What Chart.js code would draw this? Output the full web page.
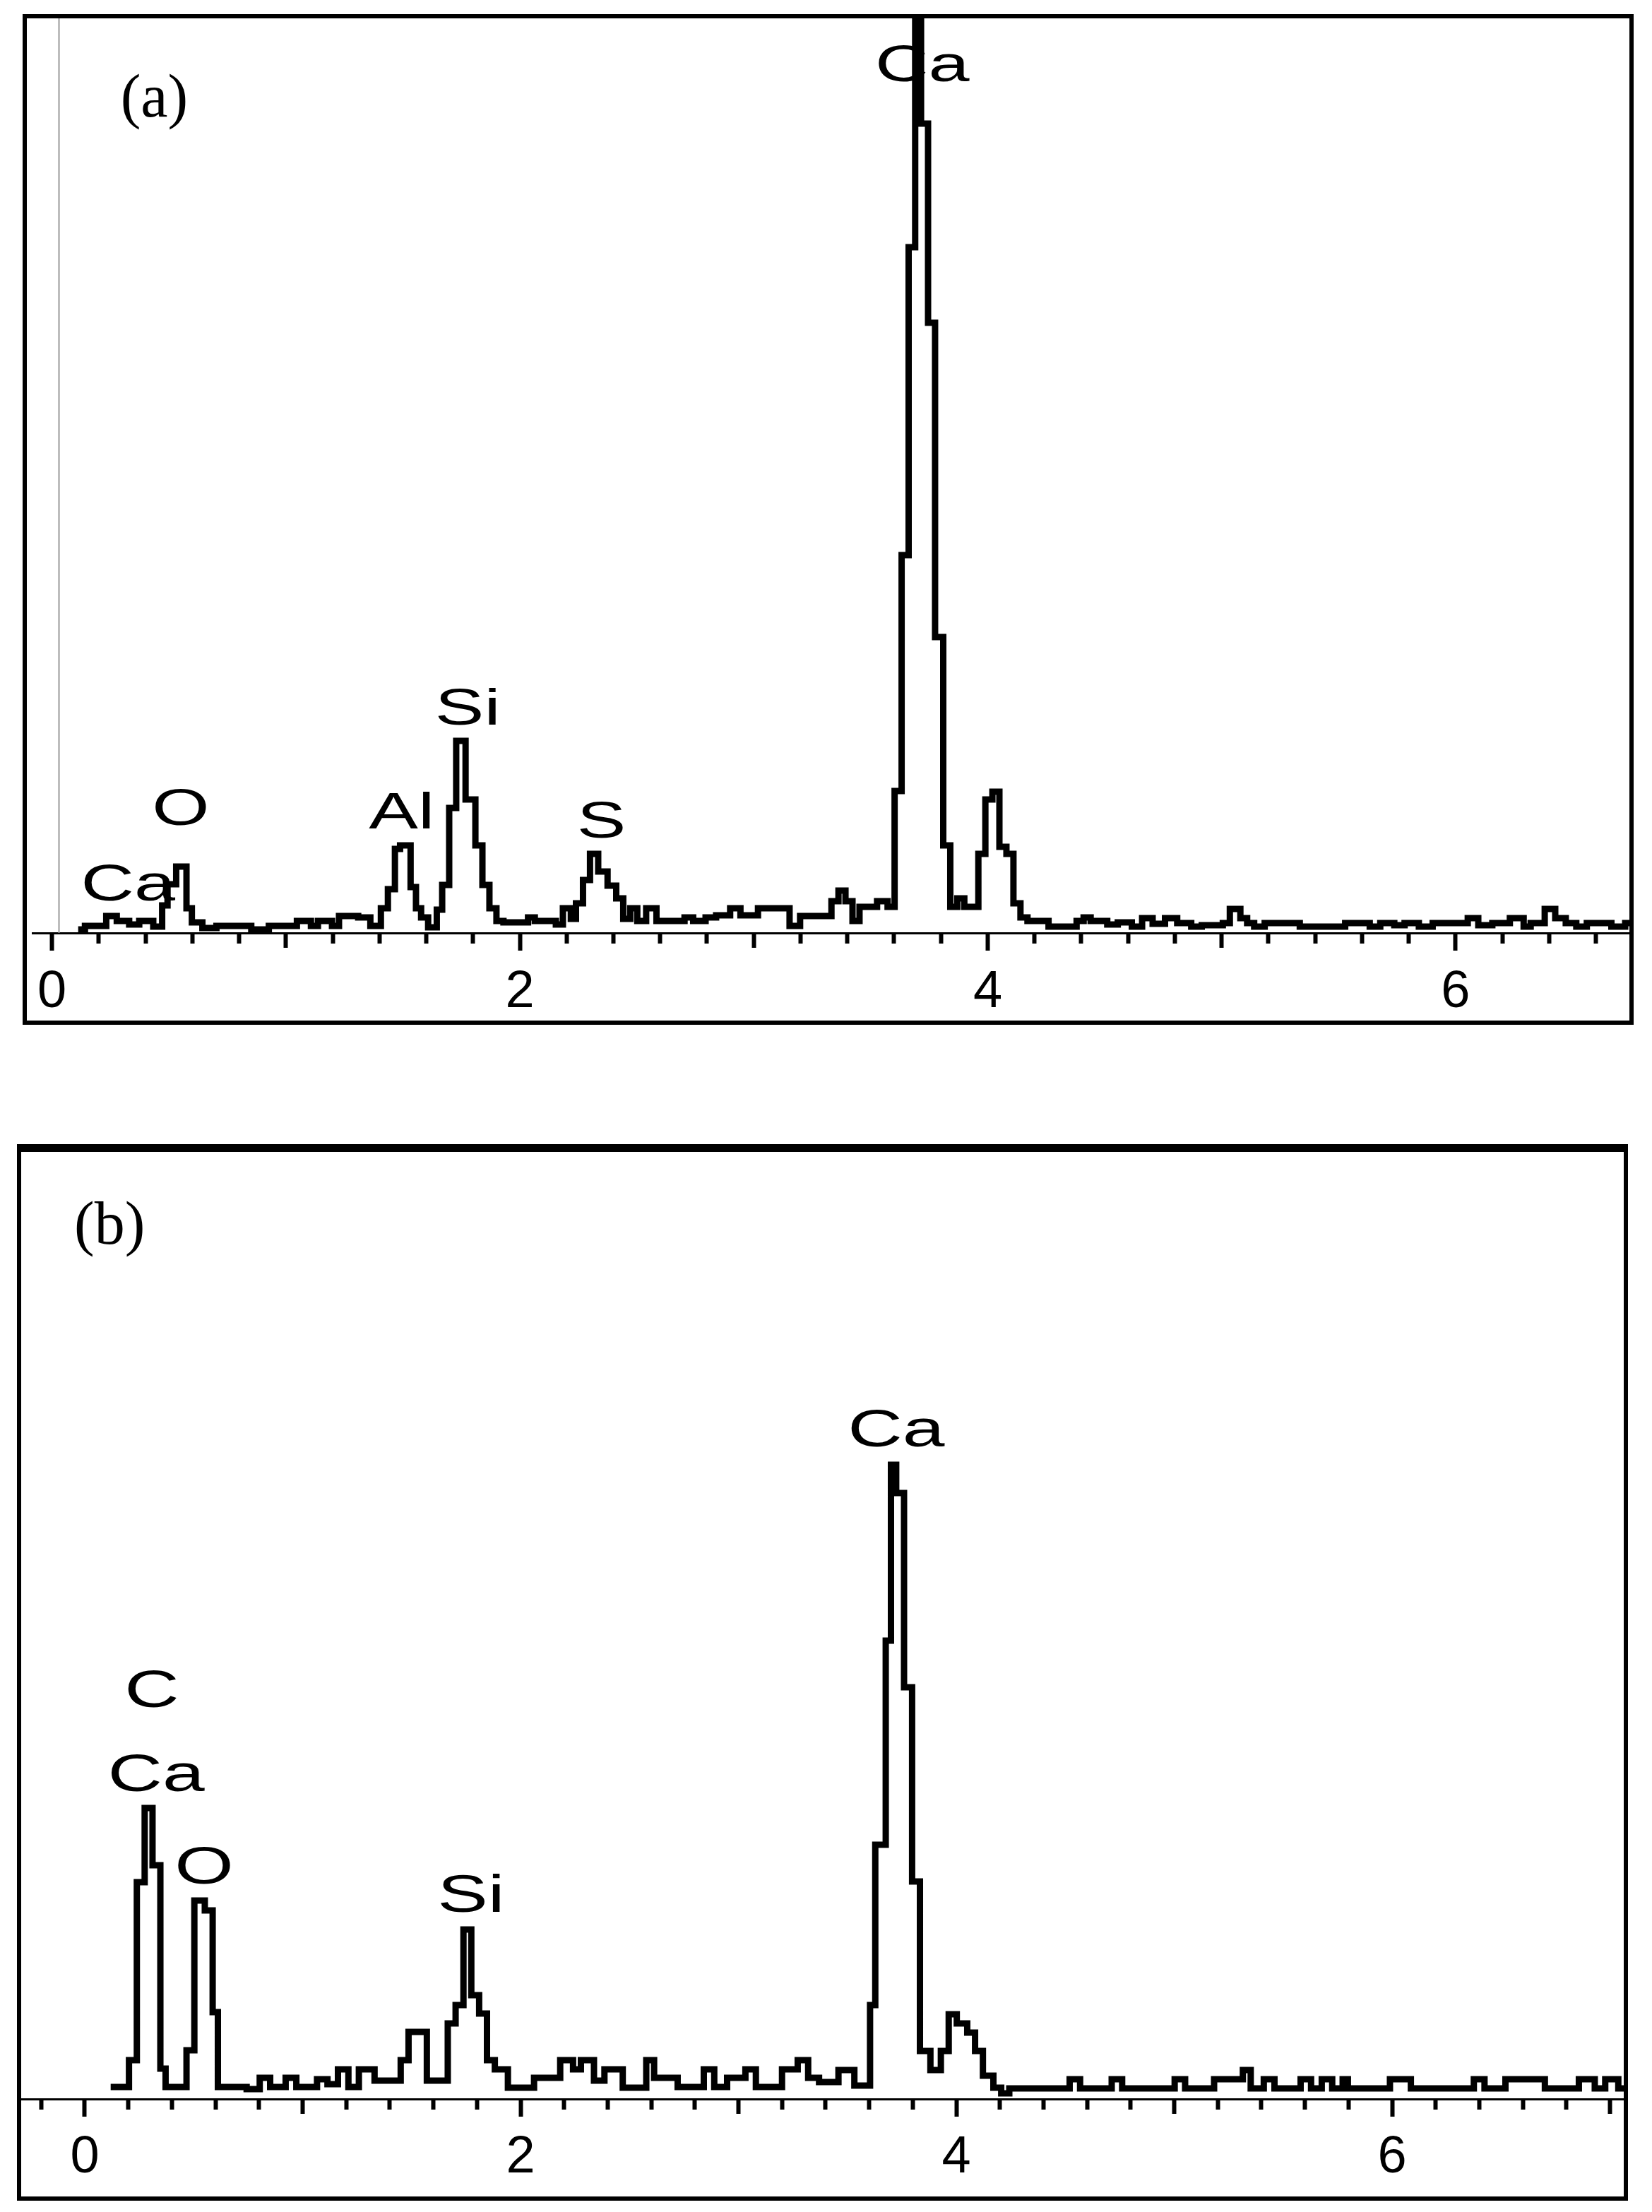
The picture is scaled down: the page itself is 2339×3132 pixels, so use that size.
<!DOCTYPE html>
<html>
<head>
<meta charset="utf-8">
<script src="https://cdn.jsdelivr.net/npm/chart.js@4.4.1/dist/chart.umd.min.js"></script>
<style>
  html, body { margin: 0; padding: 0; background: #fff; }
  body { width: 2339px; height: 3132px; position: relative; overflow: hidden; }
  .panel { position: absolute; box-sizing: border-box; border: 6px solid #000; background: #fff; }
  #panelA { left: 32px; top: 20px; width: 2281px; height: 1431px; }
  #panelB { left: 24px; top: 1620px; width: 2281px; height: 1496px; border-top-width: 11px; }
  canvas { display: block; }
</style>
</head>
<body>
<div class="panel" id="panelA"><canvas id="chartA" width="2269" height="1419"></canvas></div>
<div class="panel" id="panelB"><canvas id="chartB" width="2269" height="1479"></canvas></div>
<script>
// spectrum (a): energy (keV) where each step starts, and the counts of that step
const energyA = [0.112, 0.141, 0.232, 0.277, 0.33, 0.373, 0.433, 0.471, 0.494, 0.531, 0.575, 0.598, 0.643, 0.703,
  0.852, 0.927, 1.047, 1.107, 1.137, 1.197, 1.227, 1.309, 1.361, 1.406, 1.436, 1.466, 1.488, 1.533, 1.556, 1.578,
  1.608, 1.645, 1.668, 1.698, 1.728, 1.768, 1.81, 1.84, 1.87, 1.9, 1.93, 2.035, 2.064, 2.154, 2.184, 2.218, 2.24,
  2.27, 2.30, 2.335, 2.375, 2.412, 2.442, 2.472, 2.502, 2.54, 2.584, 2.704, 2.741, 2.794, 2.839, 2.899, 2.943,
  3.018, 3.153, 3.198, 3.332, 3.362, 3.392, 3.422, 3.452, 3.527, 3.572, 3.602, 3.632, 3.662, 3.69, 3.715, 3.745,
  3.775, 3.81, 3.84, 3.87, 3.90, 3.96, 3.99, 4.02, 4.05, 4.08, 4.11, 4.14, 4.17, 4.26, 4.38, 4.41, 4.44, 4.511,
  4.556, 4.616, 4.660, 4.705, 4.758, 4.810, 4.870, 4.915, 5.005, 5.035, 5.080, 5.109, 5.139, 5.184, 5.334, 5.528,
  5.633, 5.678, 5.738, 5.782, 5.843, 5.902, 6.052, 6.097, 6.157, 6.232, 6.291, 6.321, 6.381, 6.426, 6.471, 6.516,
  6.561, 6.666, 6.725, 6.745];
const countsA = [5, 10, 24, 17, 12, 17, 9, 39, 69, 94, 35, 15, 7, 10,
  5, 10, 17, 10, 17, 10, 24, 22, 10, 35, 62, 119, 124, 65, 35, 22,
  8, 33, 68, 177, 272, 189, 124, 68, 35, 17, 15, 22, 17, 12, 35, 20, 42,
  75, 112, 87, 67, 49, 20, 35, 17, 35, 17, 22, 17, 22, 25, 35, 25,
  35, 10, 24, 45, 60, 45, 17, 37, 45, 37, 201, 535, 971, 1400, 1146, 864,
  419, 124, 37, 49, 37, 112, 189, 200, 122, 112, 42, 22, 17, 9, 17, 22, 17, 12,
  15, 9, 21, 13, 21, 14, 9, 11, 14, 34, 21, 14, 9, 14, 9, 14,
  9, 14, 11, 14, 9, 14, 21, 11, 14, 21, 9, 14, 34, 21, 14, 9,
  14, 9, 14, 14];

// spectrum (b)
const energyB = [0.119, 0.203, 0.239, 0.275, 0.311, 0.347, 0.371, 0.467, 0.503, 0.551, 0.587, 0.611, 0.743, 0.803,
  0.851, 0.922, 0.971, 1.066, 1.114, 1.162, 1.210, 1.258, 1.330, 1.450, 1.486, 1.570, 1.666, 1.702, 1.738, 1.774,
  1.810, 1.846, 1.882, 1.942, 2.062, 2.182, 2.241, 2.277, 2.337, 2.385, 2.469, 2.577, 2.613, 2.721, 2.841, 2.889,
  2.948, 3.032, 3.080, 3.200, 3.272, 3.320, 3.37, 3.459, 3.532, 3.604, 3.628, 3.676, 3.700, 3.724, 3.760, 3.797,
  3.833, 3.881, 3.929, 3.965, 4.002, 4.050, 4.086, 4.122, 4.170, 4.206, 4.243, 4.520, 4.568, 4.713, 4.761, 5.002,
  5.050, 5.183, 5.315, 5.351, 5.411, 5.460, 5.580, 5.628, 5.677, 5.725, 5.773, 5.797, 5.990, 6.086, 6.375, 6.424,
  6.520, 6.701, 6.857, 6.930, 6.978, 7.038, 7.063];
const countsB = [17, 55, 307, 412, 331, 43, 17, 69, 281, 267, 123, 17, 14, 30,
  17, 30, 17, 28, 21, 42, 17, 42, 26, 55, 95, 26, 107, 133, 240, 147,
  121, 55, 42, 16, 30, 55, 42, 55, 26, 42, 16, 55, 30, 17, 42, 17,
  30, 42, 17, 42, 55, 30, 24, 41, 19, 133, 360, 649, 898, 858, 583, 308,
  68, 41, 68, 120, 107, 94, 68, 33, 16, 8, 15, 28, 15, 28, 15, 28,
  15, 28, 41, 15, 28, 15, 28, 15, 28, 15, 28, 15, 28, 15, 28, 15,
  28, 15, 28, 15, 28, 15, 15];

// labelled energy ticks
const tickValues = [0, 2, 4, 6];

// peak labels, anchored at (energy, counts) of the text baseline centre
const peaksA = ['Ca', 'O', 'Al', 'Si', 'S', 'Ca'];
const peakEnergyA = [0.325, 0.55, 1.495, 1.777, 2.349, 3.72];
const peakCountA = [46, 153, 148, 295, 135, 1206];
const peaksB = ['C', 'Ca', 'O', 'Si', 'Ca'];
const peakEnergyB = [0.308, 0.328, 0.548, 1.773, 3.724];
const peakCountB = [555, 436, 305, 265, 924];

// thin marker line at the left of spectrum (a)
const markerA = [{x: 0.03, y: 0}, {x: 0.03, y: 1295}];

function toPoints(energy, counts) {
    return energy.map((e, i) => ({x: e, y: counts[i]}));
}

// draws the element names (wide sans, like the original) and the panel tag
function makeLabelPlugin(names, energies, counts, size, tag, tagX, tagY) {
    return {
        id: 'peakLabels',
        afterDatasetsDraw(chart) {
            const ctx = chart.ctx;
            const x = chart.scales.x;
            const y = chart.scales.y;
            ctx.save();
            ctx.fillStyle = '#000';
            ctx.font = size + 'px "Liberation Sans", Arial, sans-serif';
            ctx.textAlign = 'center';
            ctx.textBaseline = 'alphabetic';
            names.forEach((name, i) => {
                ctx.save();
                ctx.translate(x.getPixelForValue(energies[i]), y.getPixelForValue(counts[i]));
                ctx.scale(1.45, 1);
                ctx.fillText(name, 0, 0);
                ctx.restore();
            });
            ctx.font = '86px "Liberation Serif", "Times New Roman", serif';
            ctx.textAlign = 'left';
            ctx.fillText(tag, chart.chartArea.left + tagX, chart.chartArea.top + tagY);
            ctx.restore();
        }
    };
}

function tickLabel(value) {
    const k = Math.round(value);
    if (Math.abs(value - k) < 1e-6 && tickValues.includes(k)) {
        return String(k);
    }
    return '';
}

// major (labelled) ticks are long, other whole numbers medium, the rest short
function tickDash(ctx) {
    const v = ctx.tick ? ctx.tick.value : 0;
    const k = Math.round(v);
    if (Math.abs(v - k) < 1e-6) {
        return tickValues.includes(k) ? [] : [19, 200];
    }
    return [13, 200];
}

function makeChart(id, datasets, xMin, xMax, yMax, axisHeight, labelPad, plugin) {
    return new Chart(document.getElementById(id), {
        type: 'line',
        data: {datasets: datasets},
        options: {
            responsive: false,
            animation: false,
            devicePixelRatio: 1,
            layout: {padding: 0, autoPadding: false},
            plugins: {legend: {display: false}, tooltip: {enabled: false}},
            scales: {
                x: {
                    type: 'linear',
                    min: xMin,
                    max: xMax,
                    afterFit: (scale) => { scale.height = axisHeight; },
                    border: {display: true, color: '#000', width: 3},
                    grid: {
                        drawOnChartArea: false,
                        drawTicks: true,
                        tickLength: 25,
                        tickWidth: 6,
                        tickColor: '#000',
                        tickBorderDash: tickDash
                    },
                    ticks: {
                        stepSize: 0.2,
                        includeBounds: false,
                        autoSkip: false,
                        maxRotation: 0,
                        minRotation: 0,
                        padding: labelPad,
                        color: '#000',
                        font: {family: 'Liberation Sans', size: 74},
                        callback: tickLabel
                    }
                },
                y: {display: false, min: 0, max: yMax}
            }
        },
        plugins: [plugin]
    });
}

const lineStyle = {
    borderColor: '#000',
    borderWidth: 9,
    pointRadius: 0,
    fill: false,
    stepped: true,
    borderJoinStyle: 'miter'
};

makeChart('chartA', [
    Object.assign({data: toPoints(energyA, countsA)}, lineStyle),
    {data: markerA, borderColor: '#9a9a9a', borderWidth: 2, pointRadius: 0, fill: false}
], -0.0812, 6.743, 1295, 124, 15,
    makeLabelPlugin(peaksA, peakEnergyA, peakCountA, 72, '(a)', 124, 139));

makeChart('chartB', [
    Object.assign({data: toPoints(energyB, countsB)}, lineStyle)
], -0.2917, 7.063, 1341, 138, 14,
    makeLabelPlugin(peaksB, peakEnergyB, peakCountB, 74, '(b)', 75, 130));
</script>
</body>
</html>
